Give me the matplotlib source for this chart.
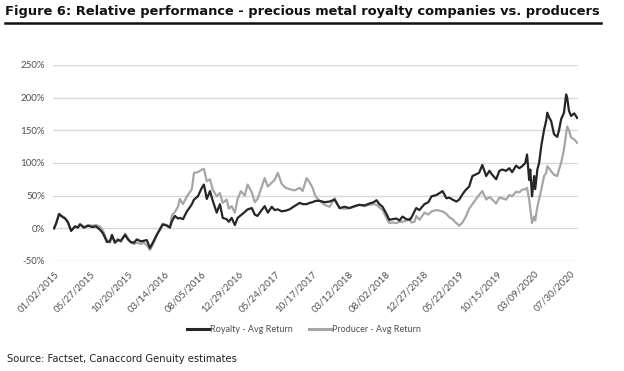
import matplotlib
matplotlib.use('Agg')
import matplotlib.pyplot as plt
from matplotlib.lines import Line2D
from matplotlib.ticker import FuncFormatter
import numpy as np

# trading-day offset from 01/02/2015
days = [0, 6, 14, 22, 31, 39, 48, 59, 67, 73, 84, 96, 107, 118, 129, 138, 149, 157,
        163, 171, 180, 188, 200, 208, 216, 225, 233, 245, 253, 261, 270, 278, 290,
        298, 306, 318, 326, 332, 340, 349, 354, 363, 374, 382, 388, 394, 405, 416,
        422, 430, 439, 447, 458, 467, 475, 486, 492, 500, 509, 517, 526, 537, 545,
        557, 565, 573, 582, 593, 602, 613, 621, 630, 641, 652, 663, 677, 692, 700,
        711, 720, 728, 736, 748, 762, 776, 790, 804, 818, 832, 846, 860, 874, 888,
        900, 908, 916, 925, 936, 944, 953, 964, 973, 981, 992, 1001, 1006, 1015,
        1020, 1029, 1043, 1054, 1063, 1077, 1094, 1105, 1113, 1122, 1133, 1141,
        1150, 1158, 1169, 1178, 1186, 1197, 1206, 1217, 1226, 1234, 1245, 1254,
        1262, 1273, 1282, 1290, 1301, 1310, 1318, 1327, 1332, 1338, 1341, 1346,
        1352, 1355, 1361, 1366, 1372, 1380, 1386, 1389, 1394, 1400, 1408, 1417,
        1422, 1428, 1436, 1442, 1445, 1450, 1456, 1465, 1473]

royalty = [0, 8, 22, 18, 15, 9, -4, 3, 1, 6, 1, 4, 2, 3, -2, -8, -21, -20,
           -10, -22, -18, -19, -10, -17, -21, -22, -17, -20, -19, -18, -30, -22, -9,
           -2, 6, 4, 1, 11, 19, 15, 16, 14, 26, 32, 37, 44, 49, 62,
           67, 45, 57, 42, 24, 37, 16, 14, 10, 16, 5, 16, 20, 25, 29,
           31, 21, 19, 26, 34, 24, 33, 28, 29, 26, 27, 29, 34, 39, 37,
           37, 39, 40, 42, 42, 40, 41, 44, 31, 33, 31, 34, 36, 35, 38,
           40, 43, 37, 33, 22, 13, 14, 15, 12, 18, 14, 13, 16, 26,
           31, 28, 37, 40, 49, 51, 57, 46, 47, 44, 41, 44,
           52, 58, 64, 80, 82, 85, 97, 80, 88, 82, 75, 88,
           90, 88, 92, 86, 96, 92, 95, 100, 113, 74, 90, 49,
           80, 60, 90, 100, 126, 151, 165, 177, 170, 164, 144, 140,
           150, 167, 177, 205, 200, 180, 172, 176, 169]

producer = [0, 8, 22, 19, 16, 10, -3, 3, 2, 7, 2, 5, 4, 5, 3, -4, -18, -22,
            -12, -20, -16, -21, -8, -15, -22, -24, -22, -24, -22, -26, -33, -25, -10,
            0, 7, 5, 2, 20, 25, 33, 45, 37, 49, 55, 60, 85, 86, 90,
            91, 72, 75, 59, 49, 54, 39, 44, 30, 34, 24, 45, 57, 50, 67,
            55, 40, 45, 59, 77, 64, 70, 74, 85, 68, 62, 60, 58, 62, 57,
            77, 70, 62, 49, 42, 36, 33, 46, 31, 30, 31, 33, 36, 34, 36,
            37, 36, 32, 28, 16, 8, 9, 8, 10, 10, 12, 15, 9, 10,
            19, 13, 24, 21, 26, 28, 26, 22, 17, 14, 8, 4,
            9, 16, 30, 37, 43, 51, 57, 44, 48, 44, 38, 47,
            46, 44, 51, 49, 56, 55, 59, 60, 62, 44, 30, 8,
            18, 12, 33, 45, 59, 80, 85, 95, 92, 87, 82, 80,
            90, 100, 121, 144, 156, 150, 139, 136, 131]

tick_labels = ['01/02/2015', '05/27/2015', '10/20/2015', '03/14/2016', '08/05/2016',
               '12/29/2016', '05/24/2017', '10/17/2017', '03/12/2018', '08/02/2018',
               '12/27/2018', '05/22/2019', '10/15/2019', '03/09/2020', '07/30/2020']
y_ticks = [-50, 0, 50, 100, 150, 200, 250]

# tick positions in trading days from the first date
tick_pos = [np.busday_count('2015-01-02', '%s-%s-%s' % (t[6:], t[:2], t[3:5]))
            for t in tick_labels]

fig = plt.figure(figsize=(6.24, 3.71), dpi=100)
ax = fig.add_axes([0.085, 0.2965, 0.841, 0.5283])

ax.plot(days, royalty, color='#262626', lw=1.6, label='Royalty - Avg Return', zorder=3)
ax.plot(days, producer, color='#a6a6a6', lw=1.6, label='Producer - Avg Return', zorder=2)

ax.set_ylim(-50, 250)
ax.set_xlim(-3, 1475)
ax.set_yticks(y_ticks)
ax.yaxis.set_major_formatter(FuncFormatter(lambda v, p: '%d%%' % v))
ax.set_xticks(tick_pos)
ax.set_xticklabels(tick_labels, rotation=45, ha='right', rotation_mode='anchor')
ax.grid(axis='y', color='#d9d9d9', lw=1)
ax.set_axisbelow(True)
for s in ax.spines.values():
    s.set_visible(False)
ax.tick_params(length=0, labelsize=7, labelcolor='#505050', pad=6)
for lab in ax.get_xticklabels() + ax.get_yticklabels():
    lab.set_family('Lato')

leg = ax.legend(loc='center', bbox_to_anchor=(0.478, -0.352), ncol=2, frameon=False,
                prop={'family': 'Lato', 'size': 6.5}, handlelength=2.4, handletextpad=0.1,
                columnspacing=1.8)
for t in leg.get_texts():
    t.set_color('#505050')
for h in leg.get_lines():
    h.set_linewidth(2.2)

fig.text(0.008, 0.987, 'Figure 6: Relative performance - precious metal royalty companies vs. producers',
         fontsize=9.4, fontweight='bold', ha='left', va='top', color='#111111')
fig.add_artist(Line2D([0.008, 0.963], [0.939, 0.939], color='#111111', lw=1.8))
fig.text(0.011, 0.033, 'Source: Factset, Canaccord Genuity estimates',
         fontsize=7.2, ha='left', va='center', color='#222222')

fig.savefig('out.png', dpi=100)
